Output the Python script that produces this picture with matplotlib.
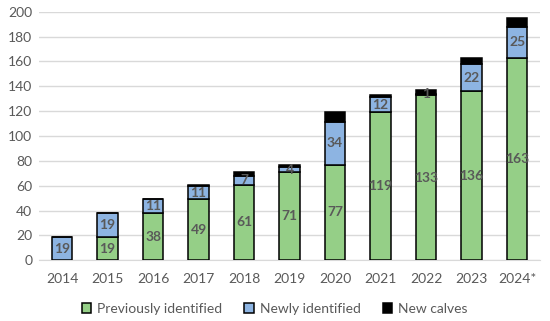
import matplotlib
matplotlib.use("Agg")
import matplotlib.pyplot as plt
import numpy as np

plt.rcParams["font.family"] = ["Lato", "DejaVu Sans"]

years = ["2014", "2015", "2016", "2017", "2018", "2019", "2020", "2021", "2022", "2023", "2024*"]
previously = [0, 19, 38, 49, 61, 71, 77, 119, 133, 136, 163]
newly = [19, 19, 11, 11, 7, 4, 34, 12, 1, 22, 25]
calves = [0, 0, 0, 1, 3, 2, 8, 2, 3, 5, 7]

green = "#95CF87"
blue = "#8DB4E2"
grey = "#595959"

fig = plt.figure(figsize=(5.5, 3.21), dpi=100)
ax = fig.add_axes([0.0715, 0.189, 0.910, 0.7745])

x = np.arange(len(years))
w = 0.45
prev = np.array(previously)
new = np.array(newly)
calf = np.array(calves)

ax.bar(x, prev, w, color=green, edgecolor="black", linewidth=1.1, label="Previously identified", zorder=3)
ax.bar(x, new, w, bottom=prev, color=blue, edgecolor="black", linewidth=1.1, label="Newly identified", zorder=3)
ax.bar(x, calf, w, bottom=prev + new, color="black", edgecolor="black", linewidth=1.1, label="New calves", zorder=3)

for xi, p, n in zip(x, prev, new):
    if p > 0:
        ax.text(xi, p / 2, str(p), ha="center", va="center", fontsize=10, fontweight="bold", color=grey, zorder=4)
    if n > 0:
        ax.text(xi, p + n / 2, str(n), ha="center", va="center", fontsize=10, fontweight="bold", color=grey, zorder=4)

ax.set_xlim(-0.5, len(years) - 0.5)
ax.set_ylim(0, 200)
ax.set_yticks(range(0, 201, 20))
ax.set_xticks(x)
ax.set_xticklabels(years)
ax.grid(axis="y", color="#D9D9D9", linewidth=1, zorder=0)
for s in ["top", "right", "left"]:
    ax.spines[s].set_visible(False)
ax.spines["bottom"].set_color("#D9D9D9")
ax.tick_params(axis="both", length=0, colors=grey, labelsize=10)
ax.tick_params(axis="x", pad=9)
ax.tick_params(axis="y", pad=5)

ax.legend(loc="center", bbox_to_anchor=(0.47, -0.196), ncol=3, frameon=False,
          fontsize=10, labelcolor=grey, handlelength=0.7, handleheight=0.7,
          handletextpad=0.4, columnspacing=1.6)

fig.savefig("out.png", dpi=100)
